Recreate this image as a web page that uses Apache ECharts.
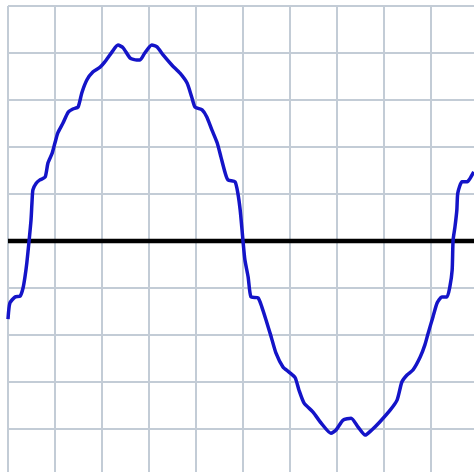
<!DOCTYPE html>
<html>
<head>
<meta charset="utf-8">
<style>
  html, body { margin: 0; padding: 0; background: #ffffff; overflow: hidden; }
  #chart { width: 480px; height: 480px; }
</style>
<script src="https://cdn.jsdelivr.net/npm/echarts@6/dist/echarts.min.js"></script>
</head>
<body>
<div id="chart"></div>
<script>
// Stepped sine waveform, in grid divisions (x: time, y: amplitude)
const waveX = [
  0.00, 0.04, 0.15, 0.26, 0.32, 0.36, 0.40, 0.45, 0.49, 0.51,
  0.53, 0.60, 0.68, 0.79, 0.85, 0.94, 1.00, 1.06, 1.17, 1.28,
  1.38, 1.49, 1.57, 1.68, 1.81, 1.96, 2.06, 2.21, 2.34, 2.45,
  2.60, 2.74, 2.81, 2.91, 3.06, 3.17, 3.30, 3.49, 3.66, 3.81,
  3.91, 3.98, 4.13, 4.23, 4.34, 4.45, 4.53, 4.62, 4.68, 4.83,
  4.89, 4.94, 4.98, 5.00, 5.04, 5.11, 5.17, 5.32, 5.40, 5.49,
  5.60, 5.70, 5.85, 5.98, 6.11, 6.19, 6.30, 6.49, 6.66, 6.87,
  6.98, 7.13, 7.30, 7.45, 7.60, 7.74, 7.91, 8.13, 8.28, 8.38,
  8.49, 8.62, 8.77, 8.87, 8.94, 9.04, 9.13, 9.23, 9.34, 9.40,
  9.45, 9.47, 9.51, 9.55, 9.57, 9.66, 9.77, 9.87, 9.91
];
const waveY = [
  -1.66, -1.32, -1.19, -1.17, -1.00, -0.77, -0.47, 0.02, 0.45, 0.81,
   1.09,  1.23,  1.30,  1.36,  1.66,  1.87,  2.09, 2.30, 2.51, 2.74,
   2.81,  2.85,  3.15,  3.43,  3.60,  3.70,  3.81, 4.02, 4.17, 4.11,
   3.89,  3.85,  3.85,  4.00,  4.17,  4.13,  3.96, 3.74, 3.57, 3.36,
   3.06,  2.85,  2.79,  2.64,  2.36,  2.09,  1.79, 1.45, 1.30, 1.26,
   1.02,  0.66,  0.23,  0.00, -0.40, -0.77, -1.19, -1.21, -1.40, -1.68,
  -2.04, -2.38, -2.68, -2.79, -2.91, -3.17, -3.45, -3.64, -3.87, -4.09,
  -4.02, -3.81, -3.77, -3.96, -4.13, -4.02, -3.85, -3.60, -3.38, -3.00,
  -2.85, -2.74, -2.47, -2.21, -1.96, -1.62, -1.32, -1.19, -1.19, -0.98,
  -0.62,  0.02,  0.30,  0.66,  1.02,  1.26,  1.26, 1.40, 1.47
];
// Zero reference line endpoints
const baseX = [0, 10];
const baseY = [0, 0];

const gridLine = { show: true, lineStyle: { color: '#c3ccd6', width: 2 } };

const chart = echarts.init(document.getElementById('chart'), null, { renderer: 'canvas' });
chart.setOption({
  backgroundColor: '#ffffff',
  animation: false,
  grid: { left: 8, top: 6, width: 470, height: 470 },
  xAxis: {
    type: 'value', min: 0, max: 10, interval: 1,
    axisLine: { show: false }, axisTick: { show: false }, axisLabel: { show: false },
    splitLine: gridLine
  },
  yAxis: {
    type: 'value', min: -5, max: 5, interval: 1,
    axisLine: { show: false }, axisTick: { show: false }, axisLabel: { show: false },
    splitLine: gridLine
  },
  series: [
    {
      type: 'line',
      data: baseX.map((x, i) => [x, baseY[i]]),
      symbol: 'none',
      lineStyle: { color: '#000000', width: 4.5 },
      z: 2
    },
    {
      type: 'line',
      data: waveX.map((x, i) => [x, waveY[i]]),
      symbol: 'none',
      smooth: 0.2,
      lineStyle: { color: '#1414c8', width: 3.5 },
      z: 3
    }
  ]
});
</script>
</body>
</html>
